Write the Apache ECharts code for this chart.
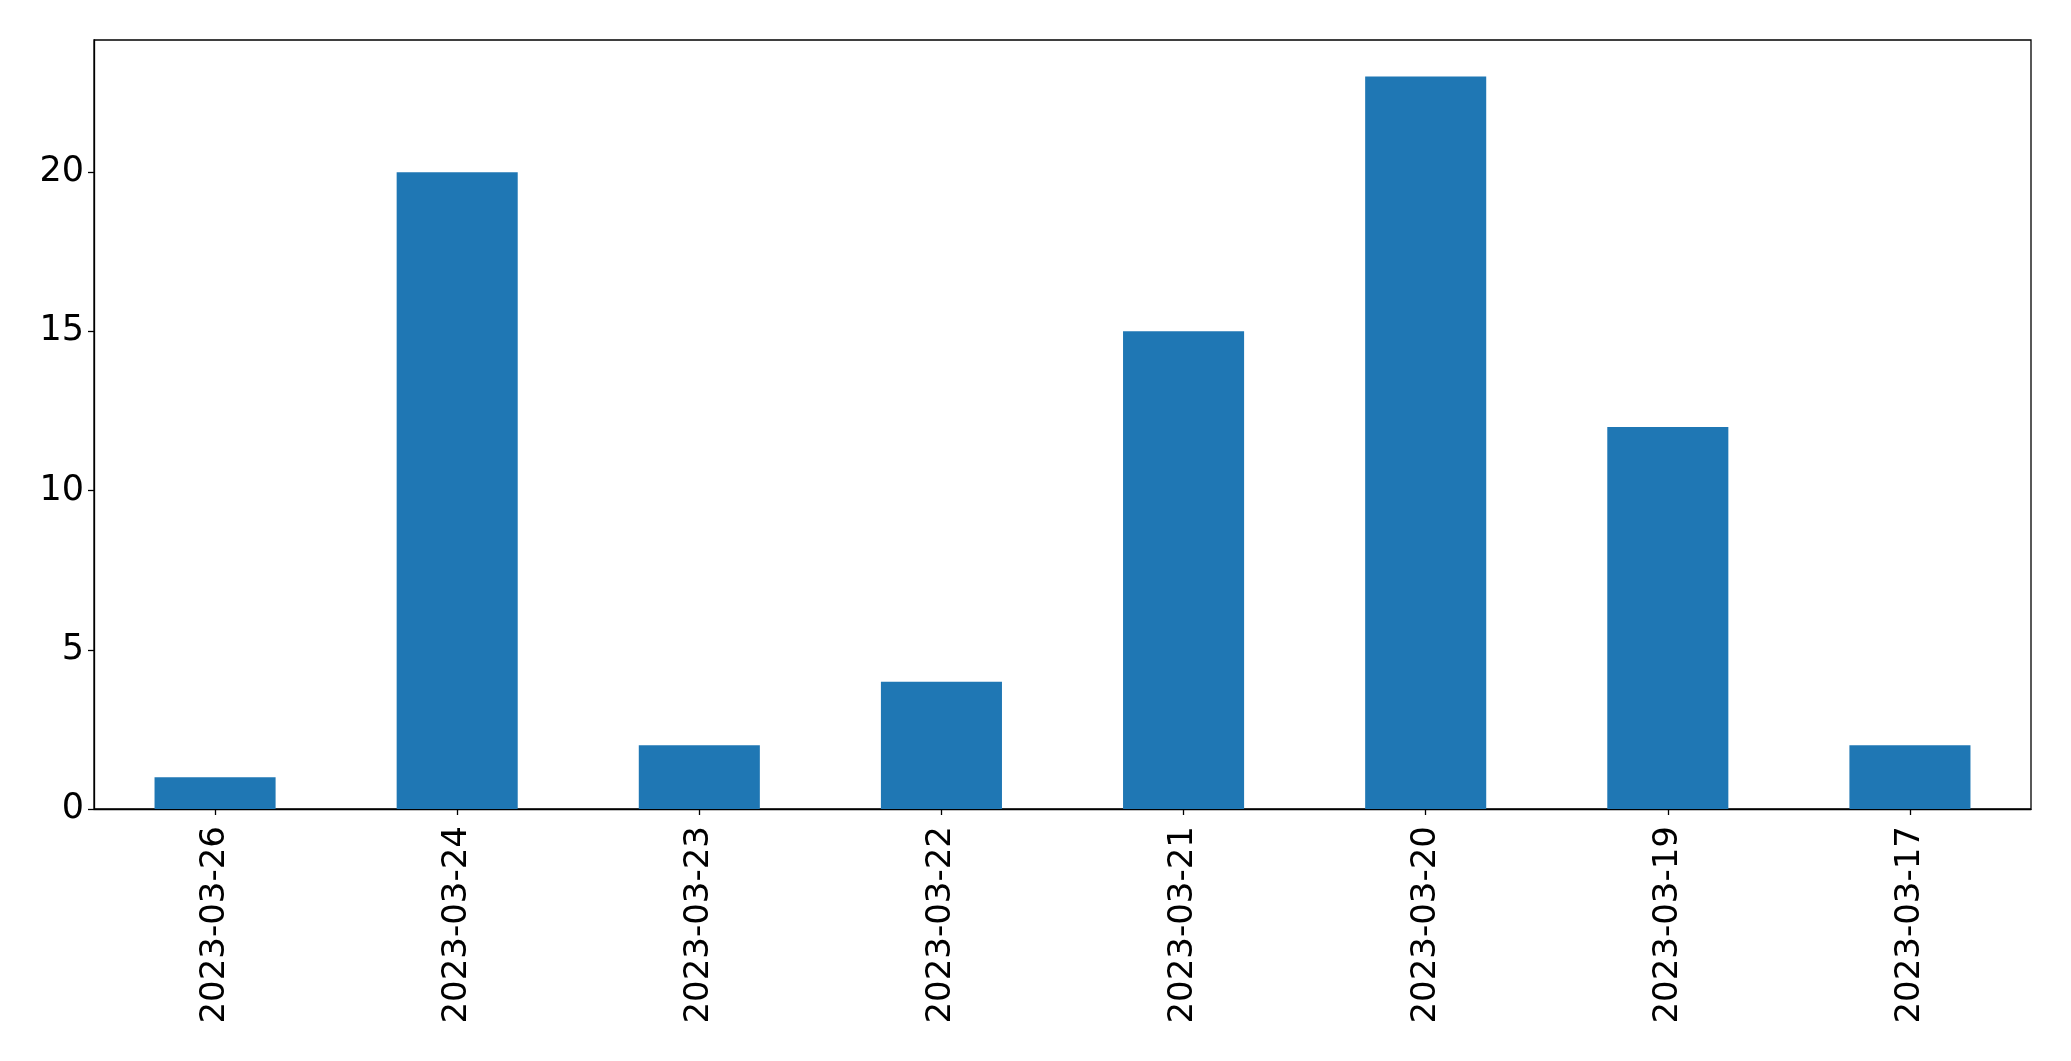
<!DOCTYPE html>
<html>
<head>
<meta charset="utf-8">
<script src="https://cdn.jsdelivr.net/npm/echarts@6/dist/echarts.min.js"></script>
<style>html,body{margin:0;padding:0;background:#fff}#c{width:2071px;height:1061px}</style>
</head>
<body>
<div id="c"></div>
<script>
const categories = ['2023-03-26','2023-03-24','2023-03-23','2023-03-22','2023-03-21','2023-03-20','2023-03-19','2023-03-17'];
const values = [1, 20, 2, 4, 15, 23, 12, 2];
const yTicks = [0, 5, 10, 15, 20];

const chart = echarts.init(document.getElementById('c'), null, {renderer: 'canvas'});
const font = 'DejaVu Sans';
chart.setOption({
  animation: false,
  backgroundColor: '#fff',
  grid: {left: 94, right: 40, top: 40, bottom: 252, show: true, borderColor: '#000', borderWidth: 1.3, backgroundColor: 'transparent'},
  xAxis: {
    type: 'category',
    data: categories,
    boundaryGap: true,
    axisLine: {show: true, lineStyle: {color: '#000', width: 1.3}},
    axisTick: {show: true, alignWithLabel: true, length: 6, lineStyle: {color: '#000', width: 1.3}},
    axisLabel: {rotate: 90, fontSize: 34, fontFamily: font, color: '#000', margin: 17, interval: 0},
    splitLine: {show: false}
  },
  yAxis: {
    type: 'value',
    min: 0,
    max: 24.15,
    interval: 5,
    axisLine: {show: true, lineStyle: {color: '#000', width: 1.3}},
    axisTick: {show: true, length: 6, lineStyle: {color: '#000', width: 1.3}, customValues: yTicks},
    axisLabel: {fontSize: 35, fontFamily: font, color: '#000', margin: 10, customValues: yTicks},
    splitLine: {show: false}
  },
  series: [{
    type: 'bar',
    data: values,
    barWidth: '50%',
    itemStyle: {color: '#1f77b4'}
  }]
});
</script>
</body>
</html>
